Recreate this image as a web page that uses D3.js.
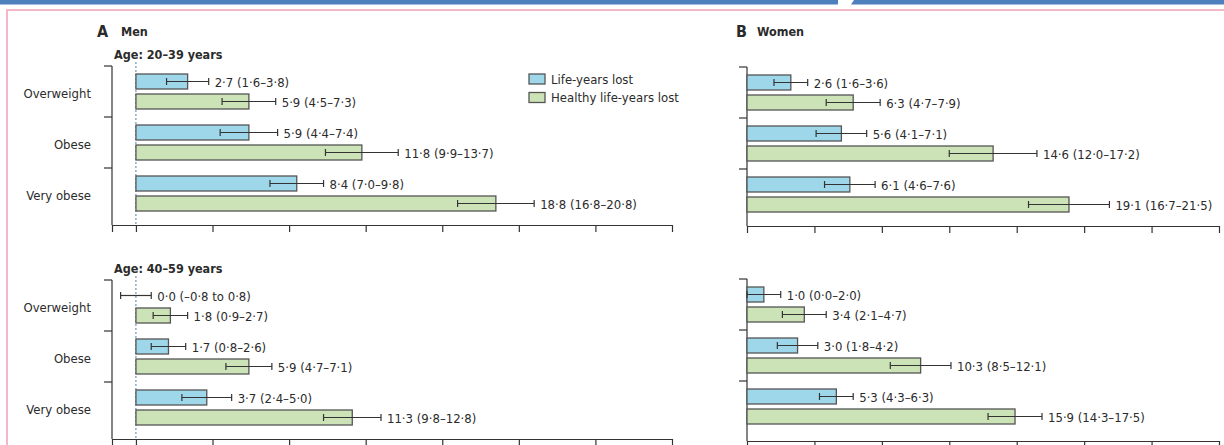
<!DOCTYPE html>
<html>
<head>
<meta charset="utf-8">
<script src="https://cdn.jsdelivr.net/npm/d3@7"></script>
<style>
  html, body { margin: 0; padding: 0; background: #fff; }
  svg { display: block; }
  text { font-family: "Liberation Sans Narrow", "DejaVu Sans Condensed", "Open Sans", sans-serif; fill: #2b2b2b; }
</style>
</head>
<body>
<svg id="chart" width="1224" height="445"></svg>
<script>
// ---------- data ----------
const categories = ["Overweight", "Obese", "Very obese"];
const seriesNames = ["Life-years lost", "Healthy life-years lost"];
const ageGroups = ["Age: 20–39 years", "Age: 40–59 years"];
const tickValues = [0, 4, 8, 12, 16, 20, 24, 28];

// Men
const men2039_lyl = [2.7, 5.9, 8.4];
const men2039_lyl_lo = [1.6, 4.4, 7.0];
const men2039_lyl_hi = [3.8, 7.4, 9.8];
const men2039_hlyl = [5.9, 11.8, 18.8];
const men2039_hlyl_lo = [4.5, 9.9, 16.8];
const men2039_hlyl_hi = [7.3, 13.7, 20.8];
const men4059_lyl = [0.0, 1.7, 3.7];
const men4059_lyl_lo = [-0.8, 0.8, 2.4];
const men4059_lyl_hi = [0.8, 2.6, 5.0];
const men4059_hlyl = [1.8, 5.9, 11.3];
const men4059_hlyl_lo = [0.9, 4.7, 9.8];
const men4059_hlyl_hi = [2.7, 7.1, 12.8];
// Women
const women2039_lyl = [2.6, 5.6, 6.1];
const women2039_lyl_lo = [1.6, 4.1, 4.6];
const women2039_lyl_hi = [3.6, 7.1, 7.6];
const women2039_hlyl = [6.3, 14.6, 19.1];
const women2039_hlyl_lo = [4.7, 12.0, 16.7];
const women2039_hlyl_hi = [7.9, 17.2, 21.5];
const women4059_lyl = [1.0, 3.0, 5.3];
const women4059_lyl_lo = [0.0, 1.8, 4.3];
const women4059_lyl_hi = [2.0, 4.2, 6.3];
const women4059_hlyl = [3.4, 10.3, 15.9];
const women4059_hlyl_lo = [2.1, 8.5, 14.3];
const women4059_hlyl_hi = [4.7, 12.1, 17.5];

// ---------- helpers ----------
const svg = d3.select("#chart");
const colors = ["#9fd7ea", "#cbe3b6"];
const strokeCol = "#555";

function num(v) {
  return (v < 0 ? "–" : "") + Math.abs(v).toFixed(1).replace(".", "·");
}
function label(v, lo, hi) {
  return lo < 0 ? `${num(v)} (${num(lo)} to ${num(hi)})` : `${num(v)} (${num(lo)}–${num(hi)})`;
}
function rows(lyl, lylLo, lylHi, hlyl, hlylLo, hlylHi) {
  const out = [];
  categories.forEach((c, i) => {
    out.push({ cat: c, s: 0, v: lyl[i], lo: lylLo[i], hi: lylHi[i] });
    out.push({ cat: c, s: 1, v: hlyl[i], lo: hlylLo[i], hi: hlylHi[i] });
  });
  return out;
}

// ---------- frame ----------
svg.append("rect").attr("x", 0).attr("y", 0).attr("width", 838).attr("height", 4.5).attr("fill", "#4d80bd");
svg.append("polygon").attr("points", "854,0 1224,0 1224,4.5 851,4.5").attr("fill", "#4d80bd");
svg.append("path").attr("d", "M7,445 L7,10 L1224,10")
  .attr("fill", "none").attr("stroke", "#f3b9c9").attr("stroke-width", 2);

// ---------- panels ----------
function drawPanel(opts) {
  const { data, xDomain, xRange, yTop, axisY, showCats, zeroLine, ageLabel } = opts;
  const x = d3.scaleLinear().domain(xDomain).range(xRange);
  const y = d3.scaleBand().domain(categories).range([yTop, yTop + 153]);
  const ys = d3.scaleBand().domain([0, 1]).range([8, 43]).paddingInner(0.25);
  const g = svg.append("g");

  // y axis
  g.append("line").attr("x1", xRange[0]).attr("x2", xRange[0])
    .attr("y1", yTop).attr("y2", axisY).attr("stroke", "#333").attr("stroke-width", 1.2);
  categories.forEach(c => {
    g.append("line").attr("x1", xRange[0] - 8).attr("x2", xRange[0])
      .attr("y1", y(c)).attr("y2", y(c)).attr("stroke", "#333").attr("stroke-width", 1.2);
  });

  // x axis
  const xAxis = d3.axisBottom(x)
    .tickValues([xDomain[0]].concat(tickValues).filter((v, i, a) => a.indexOf(v) === i))
    .tickFormat("").tickSize(7).tickSizeOuter(0);
  const ax = g.append("g").attr("transform", `translate(0,${axisY})`).call(xAxis);
  ax.select(".domain").attr("stroke", "#333").attr("stroke-width", 1.2);
  ax.selectAll(".tick line").attr("stroke", "#333").attr("stroke-width", 1.2);

  if (zeroLine) {
    g.append("line").attr("x1", x(0)).attr("x2", x(0))
      .attr("y1", yTop - 4).attr("y2", axisY)
      .attr("stroke", "#4f7fa6").attr("stroke-width", 1).attr("stroke-dasharray", "2,2");
  }

  if (ageLabel) {
    g.append("text").attr("x", 114).attr("y", yTop - 7)
      .style("font-size", "12.5px").style("font-weight", "bold").text(ageLabel);
  }

  if (showCats) {
    categories.forEach(c => {
      g.append("text").attr("x", 91).attr("y", y(c) + y.bandwidth() / 2 + 2)
        .attr("text-anchor", "end").attr("dy", "0.35em")
        .style("font-size", "13px").text(c);
    });
  }

  const items = g.selectAll("g.item").data(data).enter().append("g");
  items.filter(d => d.v > 0).append("rect")
    .attr("x", d => x(0)).attr("width", d => x(d.v) - x(0))
    .attr("y", d => y(d.cat) + ys(d.s)).attr("height", ys.bandwidth())
    .attr("fill", d => colors[d.s]).attr("stroke", strokeCol).attr("stroke-width", 1.3);
  const cy = d => y(d.cat) + ys(d.s) + ys.bandwidth() / 2;
  items.append("line").attr("x1", d => x(d.lo)).attr("x2", d => x(d.hi))
    .attr("y1", cy).attr("y2", cy).attr("stroke", "#333").attr("stroke-width", 1.2);
  items.append("line").attr("x1", d => x(d.lo)).attr("x2", d => x(d.lo))
    .attr("y1", d => cy(d) - 3.5).attr("y2", d => cy(d) + 3.5).attr("stroke", "#333").attr("stroke-width", 1.2);
  items.append("line").attr("x1", d => x(d.hi)).attr("x2", d => x(d.hi))
    .attr("y1", d => cy(d) - 3.5).attr("y2", d => cy(d) + 3.5).attr("stroke", "#333").attr("stroke-width", 1.2);
  items.append("text").attr("x", d => x(d.hi) + 6).attr("y", d => cy(d) + 1)
    .attr("dy", "0.35em").style("font-size", "13px")
    .text(d => label(d.v, d.lo, d.hi));
}

const menX = { xDomain: [-1.25, 28], xRange: [112, 672] };
const womenX = { xDomain: [0, 28], xRange: [747, 1219] };

drawPanel(Object.assign({}, menX, {
  data: rows(men2039_lyl, men2039_lyl_lo, men2039_lyl_hi, men2039_hlyl, men2039_hlyl_lo, men2039_hlyl_hi),
  yTop: 66, axisY: 225, showCats: true, zeroLine: true, ageLabel: ageGroups[0]
}));
drawPanel(Object.assign({}, menX, {
  data: rows(men4059_lyl, men4059_lyl_lo, men4059_lyl_hi, men4059_hlyl, men4059_hlyl_lo, men4059_hlyl_hi),
  yTop: 280, axisY: 439, showCats: true, zeroLine: true, ageLabel: ageGroups[1]
}));
drawPanel(Object.assign({}, womenX, {
  data: rows(women2039_lyl, women2039_lyl_lo, women2039_lyl_hi, women2039_hlyl, women2039_hlyl_lo, women2039_hlyl_hi),
  yTop: 67, axisY: 226, showCats: false, zeroLine: false
}));
drawPanel(Object.assign({}, womenX, {
  data: rows(women4059_lyl, women4059_lyl_lo, women4059_lyl_hi, women4059_hlyl, women4059_hlyl_lo, women4059_hlyl_hi),
  yTop: 279, axisY: 441, showCats: false, zeroLine: false
}));

// ---------- titles ----------
svg.append("text").attr("x", 97).attr("y", 37).style("font-size", "16px").style("font-weight", "bold").text("A");
svg.append("text").attr("x", 121).attr("y", 36).style("font-size", "12.5px").style("font-weight", "bold").text("Men");
svg.append("text").attr("x", 736).attr("y", 37).style("font-size", "16px").style("font-weight", "bold").text("B");
svg.append("text").attr("x", 757).attr("y", 36).style("font-size", "12.5px").style("font-weight", "bold").text("Women");

// ---------- legend ----------
const legend = svg.append("g").attr("transform", "translate(529,74)");
seriesNames.forEach((n, i) => {
  legend.append("rect").attr("x", 0).attr("y", i * 18.5).attr("width", 16).attr("height", 10)
    .attr("fill", colors[i]).attr("stroke", strokeCol).attr("stroke-width", 1.3);
  legend.append("text").attr("x", 22).attr("y", i * 18.5 + 5).attr("dy", "0.35em")
    .style("font-size", "13px").text(n);
});
</script>
</body>
</html>
